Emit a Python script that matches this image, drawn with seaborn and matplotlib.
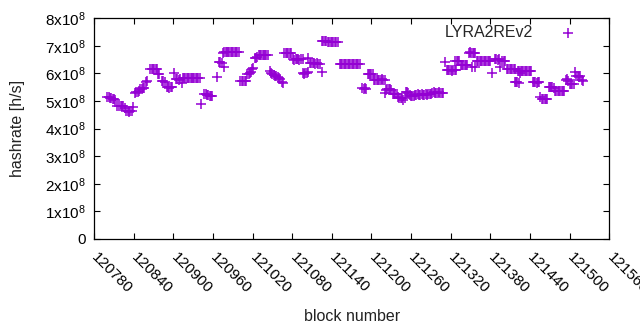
import numpy as np
import pandas as pd
import matplotlib
matplotlib.use("Agg")
import matplotlib.pyplot as plt
import seaborn as sns

# block number / hashrate (in units of 1e8 h/s)
blocks = [
    120799, 120802, 120804, 120806, 120808, 120810, 120812,
    120815, 120818, 120820, 120822, 120824, 120827,
    120829, 120831, 120833, 120835, 120837, 120839,
    120842, 120844, 120846, 120848, 120850, 120852, 120854, 120856,
    120858, 120860,
    120865, 120867, 120869, 120871, 120873, 120875,
    120877, 120879,
    120883, 120885, 120887,
    120890, 120892, 120894, 120896, 120898,
    120901,
    120904, 120906, 120908, 120910,
    120913,
    120914, 120916, 120918, 120920, 120922, 120924, 120926, 120928, 120930,
    120932, 120934, 120936, 120938, 120940,
    120942,
    120947, 120949, 120951, 120953, 120955, 120957, 120959,
    120966,
    120969, 120971, 120973, 120976,
    120975, 120977, 120979, 120981, 120983, 120985, 120987, 120989, 120991,
    120993, 120995, 120997, 120999,
    121001, 121004, 121006, 121008, 121010,
    121012, 121014, 121016, 121018,
    121019, 121021,
    121023, 121025, 121027,
    121029, 121031, 121033, 121035, 121037, 121039, 121041, 121043,
    121046, 121048, 121050, 121052, 121054, 121056, 121058, 121060, 121062,
    121064, 121066,
    121068, 121070, 121072, 121074, 121076, 121078,
    121081, 121083, 121085, 121087, 121089, 121091, 121093, 121096,
    121096, 121098, 121100, 121102, 121104,
    121104,
    121107, 121109, 121111, 121113, 121115, 121117, 121119, 121122,
    121125,
    121125, 121127, 121129, 121131, 121134, 121136, 121138, 121140, 121142,
    121144, 121146, 121149,
    121152, 121154, 121156, 121158, 121160, 121162, 121164, 121166, 121168,
    121170, 121172, 121174, 121176, 121178, 121180, 121183,
    121186, 121188, 121190, 121192,
    121194, 121196, 121198, 121200, 121202,
    121204, 121206, 121208, 121210, 121212, 121214, 121216, 121218, 121220,
    121220, 121222,
    121224, 121226, 121228, 121230,
    121232, 121234, 121236, 121238,
    121240, 121242, 121244, 121246, 121248, 121250,
    121252, 121254, 121256,
    121258, 121260, 121262, 121264, 121266,
    121268, 121270, 121272, 121274, 121276, 121278, 121280, 121282, 121284,
    121286, 121288, 121290,
    121292, 121294, 121296, 121298, 121300, 121302, 121304, 121306, 121308,
    121311,
    121314, 121316, 121318, 121320, 121322, 121324, 121326, 121328,
    121327, 121329, 121331, 121333,
    121335, 121337, 121339, 121341, 121343, 121345,
    121347, 121349, 121351, 121353, 121355, 121357,
    121352, 121357,
    121360, 121362, 121364, 121366, 121368, 121370, 121372, 121374, 121376,
    121378, 121380,
    121382,
    121387, 121389, 121391, 121393,
    121395,
    121398, 121400, 121402,
    121405, 121407, 121409, 121411, 121413, 121415, 121417,
    121417, 121419, 121421, 121423,
    121422, 121424, 121426, 121428, 121430, 121432, 121434, 121436, 121438,
    121440, 121442,
    121425,
    121444, 121446, 121448, 121450, 121452, 121454,
    121455,
    121458, 121460, 121462, 121464, 121466,
    121468, 121470, 121472, 121474, 121476,
    121478, 121480, 121482, 121484, 121486, 121488, 121490, 121492,
    121494, 121496, 121498,
    121500, 121502, 121504, 121506,
    121508,
    121510, 121512, 121514, 121516,
    121518, 121520,
]

hashrate = [
    5.15, 5.14, 5.12, 5.10, 5.08, 5.08, 5.02,
    4.82, 4.80, 4.80, 4.80, 4.80, 4.76,
    4.62, 4.62, 4.60, 4.62, 4.64, 4.78,
    5.28, 5.32, 5.32, 5.36, 5.42, 5.44, 5.46, 5.48,
    5.68, 5.74,
    6.14, 6.17, 6.17, 6.16, 6.16, 6.14,
    5.98, 5.96,
    5.74, 5.72, 5.70,
    5.52, 5.50, 5.48, 5.50, 5.52,
    6.00,
    5.78, 5.78, 5.76, 5.78,
    5.65,
    5.82, 5.82, 5.83, 5.82, 5.82, 5.84, 5.82, 5.82, 5.83,
    5.82, 5.82, 5.83, 5.82, 5.82,
    4.90,
    5.24, 5.24, 5.22, 5.20, 5.18, 5.18, 5.17,
    5.86,
    6.40, 6.40, 6.38, 6.23,
    6.74, 6.76, 6.77, 6.77, 6.76, 6.77, 6.77, 6.76, 6.77,
    6.77, 6.76, 6.77, 6.77,
    5.72, 5.72, 5.74, 5.72, 5.74,
    5.98, 5.96, 6.00, 6.04,
    6.16, 6.18,
    6.55, 6.55, 6.58,
    6.65, 6.66, 6.65, 6.65, 6.66, 6.65, 6.65, 6.65,
    6.08, 6.02, 5.98, 5.94, 5.92, 5.90, 5.86, 5.82, 5.78,
    5.70, 5.66,
    6.74, 6.73, 6.72, 6.72, 6.73, 6.73,
    6.52, 6.50, 6.51, 6.52, 6.51, 6.50, 6.51, 6.51,
    6.00, 5.96, 6.02, 6.00, 6.04,
    6.56,
    6.38, 6.37, 6.36, 6.36, 6.35, 6.36, 6.35, 6.34,
    6.06,
    7.18, 7.18, 7.18, 7.17, 7.15, 7.15, 7.15, 7.14, 7.15,
    7.15, 7.15, 7.15,
    6.33, 6.33, 6.34, 6.33, 6.33, 6.33, 6.34, 6.33, 6.33,
    6.33, 6.33, 6.34, 6.33, 6.33, 6.33, 6.33,
    5.48, 5.44, 5.46, 5.44,
    5.98, 5.98, 5.97, 5.96, 5.96,
    5.76, 5.77, 5.76, 5.76, 5.77, 5.76, 5.78, 5.76, 5.76,
    5.30, 5.40,
    5.44, 5.43, 5.42, 5.40,
    5.26, 5.25, 5.24, 5.24,
    5.14, 5.12, 5.12, 5.12, 5.03, 5.12,
    5.32, 5.31, 5.30,
    5.20, 5.19, 5.18, 5.18, 5.20,
    5.22, 5.24, 5.20, 5.22, 5.26, 5.22, 5.20, 5.24, 5.22,
    5.25, 5.24, 5.26,
    5.30, 5.31, 5.29, 5.30, 5.30, 5.31, 5.30, 5.29, 5.30,
    6.41,
    6.11, 6.12, 6.11, 6.11, 6.10, 6.11, 6.12, 6.11,
    6.46, 6.46, 6.45, 6.44,
    6.30, 6.31, 6.30, 6.30, 6.29, 6.30,
    6.75, 6.76, 6.75, 6.75, 6.74, 6.75,
    6.24, 6.24,
    6.45, 6.45, 6.46, 6.45, 6.45, 6.44, 6.45, 6.46, 6.45,
    6.45, 6.45,
    6.00,
    6.52, 6.52, 6.50, 6.52,
    6.22,
    6.46, 6.46, 6.45,
    6.15, 6.15, 6.16, 6.15, 6.14, 6.15, 6.15,
    5.68, 5.68, 5.68, 5.66,
    6.09, 6.09, 6.10, 6.09, 6.08, 6.09, 6.09, 6.10, 6.09,
    6.09, 6.08,
    6.00,
    5.68, 5.67, 5.68, 5.66, 5.68, 5.67,
    5.16,
    5.08, 5.06, 5.06, 5.08, 5.07,
    5.50, 5.50, 5.52, 5.50, 5.48,
    5.36, 5.36, 5.37, 5.36, 5.35, 5.36, 5.36, 5.37,
    5.76, 5.78, 5.74,
    5.62, 5.62, 5.60, 5.62,
    6.05,
    5.92, 5.90, 5.88, 5.92,
    5.76, 5.74,
]

xticks = list(range(120780, 121561, 60))
yticks = [0, 1e8, 2e8, 3e8, 4e8, 5e8, 6e8, 7e8, 8e8]
ytick_labels = ["0"] + [f"{i}x10$^{{8}}$" for i in range(1, 9)]

df = pd.DataFrame({"block": blocks, "hashrate": np.array(hashrate) * 1e8})

sns.set_theme(style="ticks")
plt.rcParams["font.family"] = ["Liberation Sans", "DejaVu Sans"]
plt.rcParams["mathtext.fontset"] = "custom"
plt.rcParams["mathtext.rm"] = "Liberation Sans"
plt.rcParams["mathtext.it"] = "Liberation Sans:italic"
plt.rcParams["mathtext.bf"] = "Liberation Sans:bold"

fig, ax = plt.subplots(figsize=(6.4, 3.3), dpi=100)
fig.subplots_adjust(left=0.147, right=0.952, top=0.945, bottom=0.276)

sns.scatterplot(data=df, x="block", y="hashrate", marker="+", color="#9400d3",
                s=45, linewidth=1.1, label="LYRA2REv2", ax=ax)

ax.set_xlim(120780, 121560)
ax.set_ylim(0, 8e8)
ax.set_xticks(xticks)
ax.set_xticklabels([str(t) for t in xticks], rotation=-45, ha="left", va="center",
                   rotation_mode="anchor", fontsize=11)
ax.set_yticks(yticks)
ax.set_yticklabels(ytick_labels, fontsize=11)
ax.tick_params(direction="in", top=True, right=True, length=4, width=0.8,
               colors="black", pad=6)
ax.tick_params(axis="x", pad=12)
for sp in ax.spines.values():
    sp.set_color("black")
    sp.set_linewidth(0.9)

ax.set_xlabel("block number", fontsize=11.5, color="#222222", va="center")
ax.set_ylabel("hashrate [h/s]", fontsize=11.5, color="#222222", va="center")
ax.xaxis.set_label_coords(0.5, -0.352)
ax.yaxis.set_label_coords(-0.1495, 0.5)

ax.legend(loc="upper right", bbox_to_anchor=(0.973, 1.018), frameon=False,
          markerfirst=False, fontsize=11.5, handletextpad=1.2, borderaxespad=0.3)

plt.savefig("out.png", dpi=100)
